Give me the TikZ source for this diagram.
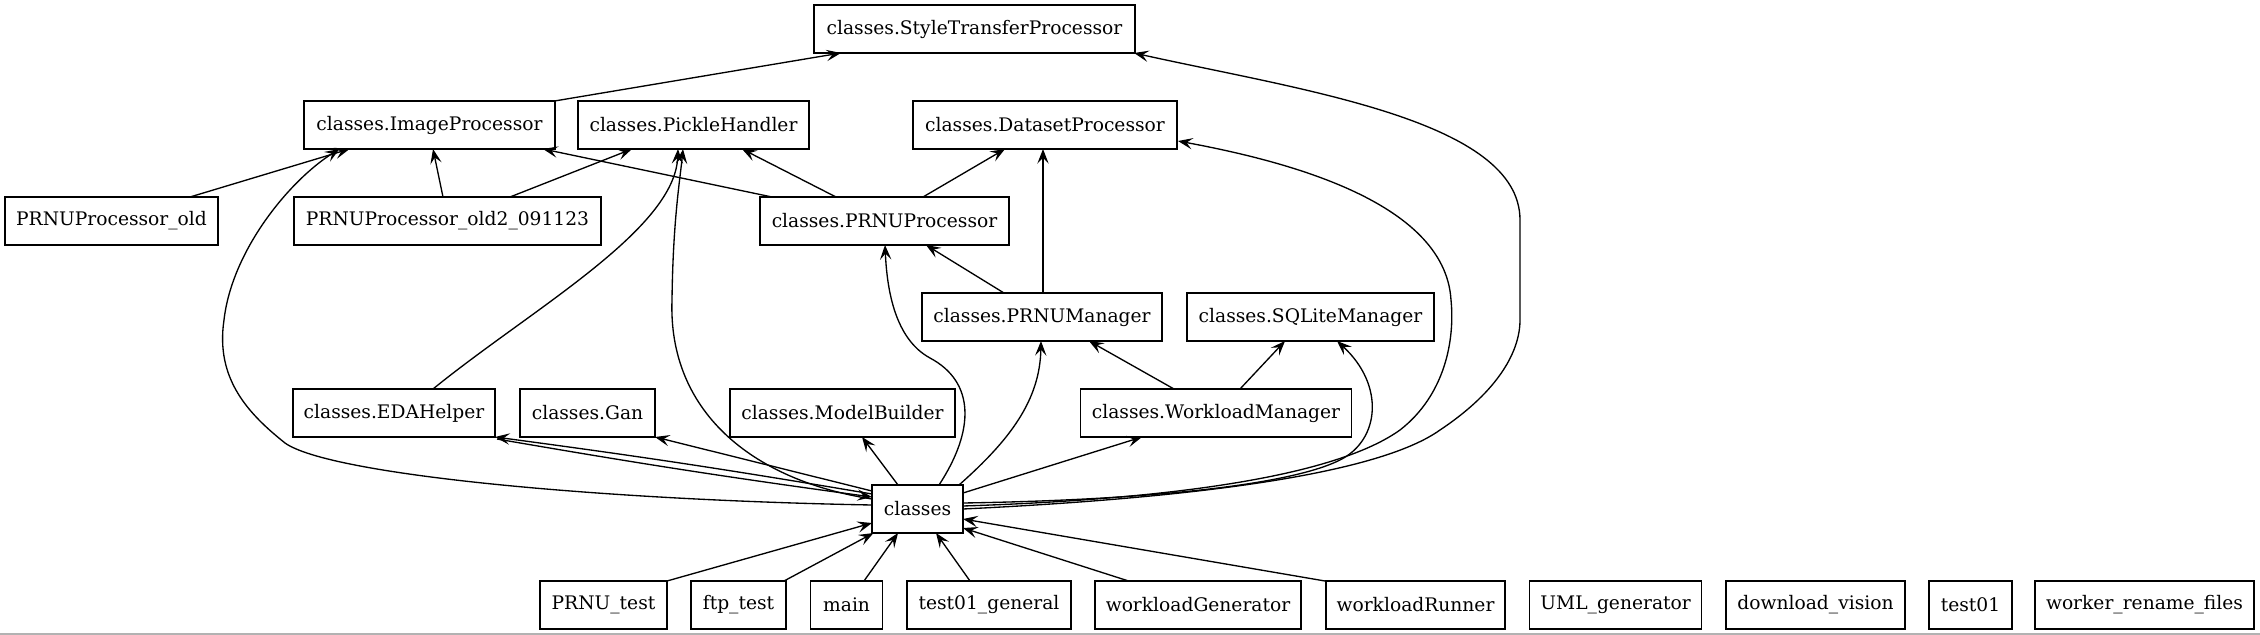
\documentclass[tikz,border=0pt]{standalone}
\usepackage{fontspec}
\setmainfont{DejaVu Serif}
\usetikzlibrary{calc,arrows.meta}
\begin{document}
\begin{tikzpicture}[x=0.75pt,y=-0.75pt,
  box/.style={draw, line width=1pt, rectangle, inner sep=0pt, minimum height=36pt,
    minimum width=#1*0.75pt, font=\fontsize{14pt}{16pt}\selectfont},
  edge/.style={draw, line width=1pt, -{Stealth[length=11pt,width=8.5pt,inset=4.5pt]}}]
\useasboundingbox (0,0) rectangle (2260,635);
\draw[black!30, line width=1pt] (0,634) -- (2260,634);
% nodes
\node[box=321] (stp) at (974.5,29) {classes.StyleTransferProcessor};
\node[box=251] (ip) at (429.5,125) {classes.ImageProcessor};
\node[box=231] (ph) at (693.5,125) {classes.PickleHandler};
\node[box=264] (dp) at (1045,125) {classes.DatasetProcessor};
\node[box=213] (pold) at (111.5,221) {PRNUProcessor\_old};
\node[box=307] (pold2) at (447.5,221) {PRNUProcessor\_old2\_091123};
\node[box=249] (pp) at (884.5,221) {classes.PRNUProcessor};
\node[box=240] (pm) at (1042,317) {classes.PRNUManager};
\node[box=247] (sq) at (1310.5,317) {classes.SQLiteManager};
\node[box=202] (eda) at (394,413) {classes.EDAHelper};
\node[box=135] (gan) at (587.5,413) {classes.Gan};
\node[box=225] (mb) at (842.5,413) {classes.ModelBuilder};
\node[box=271] (wm) at (1216,413) {classes.WorkloadManager};
\node[box=91] (cl) at (917.5,509) {classes};
\node[box=127] (prt) at (603.5,605) {PRNU\_test};
\node[box=95] (ftp) at (738.5,605) {ftp\_test};
\node[box=72] (mn) at (846.6,605) {main};
\node[box=164] (tg) at (989,605) {test01\_general};
\node[box=206] (wg) at (1198,605) {workloadGenerator};
\node[box=179] (wr) at (1415.5,605) {workloadRunner};
\node[box=172] (uml) at (1615.6,605) {UML\_generator};
\node[box=179] (dv) at (1815.5,605) {download\_vision};
\node[box=83] (t01) at (1970.5,605) {test01};
\node[box=219] (wrf) at (2144.5,605) {worker\_rename\_files};
% upper edges
\draw[edge] ($(ip)+(125,-24)$) -- ($(stp)+(-133.5,24)$);
\draw[edge] ($(pold)+(78.5,-24)$) -- ($(ip)+(-80,24)$);
\draw[edge] ($(pold2)+(-4.5,-24)$) -- ($(ip)+(3.5,24)$);
\draw[edge] ($(pold2)+(62.5,-24)$) -- ($(ph)+(-61.5,24)$);
\draw[edge] ($(pp)+(-112.5,-24)$) -- ($(ip)+(113.5,24)$);
\draw[edge] ($(pp)+(-48.5,-24)$) -- ($(ph)+(48.5,24)$);
\draw[edge] ($(pp)+(38.5,-24)$) -- ($(dp)+(-40,24)$);
\draw[edge] ($(eda)+(39,-24)$) .. controls (530,310) and (675,230) .. ($(ph)+(-15.5,24)$);
\draw[edge] ($(pm)+(-38,-24)$) -- ($(pp)+(41.5,24)$);
\draw[edge] ($(pm)+(1,-24)$) -- ($(dp)+(-2,24)$);
\draw[edge] ($(wm)+(-42,-24)$) -- ($(pm)+(47,24)$);
\draw[edge] ($(wm)+(24,-24)$) -- ($(sq)+(-25.5,24)$);
% edges from classes
\draw[edge] ($(cl)+(-19.5,-24)$) -- ($(mb)+(19.5,24)$);
\draw[edge] ($(cl)+(-45.5,-18)$) -- ($(gan)+(67.5,24)$);
\draw[edge] ($(cl)+(-45.5,-15)$) to[bend right=1] ($(eda)+(101,24)$);
\draw[edge] ($(eda)+(103,26)$) to[bend right=1] ($(cl)+(-45.5,-12)$);
\draw[edge] ($(cl)+(-45.5,-10)$) .. controls (750,480) and (668,410) .. (672,300)
  .. controls (673,220) and (680,180) .. ($(ph)+(-10.5,24)$);
\draw[edge] ($(cl)+(-45.5,-4)$) .. controls (600,500) and (330,475) .. (285,443)
  .. controls (250,415) and (215,380) .. (224,320)
  .. controls (232,250) and (290,180) .. ($(ip)+(-90,24)$);
\draw[edge] ($(cl)+(21.5,-24)$) .. controls (975,430) and (975,382) .. (930,358)
  .. controls (895,339) and (887,290) .. ($(pp)+(0.5,24)$);
\draw[edge] ($(cl)+(41.5,-24)$) .. controls (1010,440) and (1040,400) .. ($(pm)+(-1,24)$);
\draw[edge] ($(cl)+(45.5,-16)$) -- ($(wm)+(-74,24)$);
\draw[edge] ($(cl)+(45.5,-6)$) .. controls (1150,500) and (1290,485) .. (1340,460)
  .. controls (1380,440) and (1385,385) .. ($(sq)+(26.5,24)$);
\draw[edge] ($(cl)+(45.5,-3)$) .. controls (1150,500) and (1330,480) .. (1400,430)
  .. controls (1445,395) and (1455,340) .. (1451,300)
  .. controls (1445,200) and (1280,160) .. ($(dp)+(133,16)$);
\draw[edge] ($(cl)+(45.5,0)$) .. controls (1150,500) and (1370,480) .. (1440,430)
  .. controls (1500,390) and (1520,350) .. (1520,320) -- (1520,220)
  .. controls (1520,120) and (1300,90) .. ($(stp)+(159.5,24)$);
% edges into classes from the bottom row
\draw[edge] ($(prt)+(63.5,-24)$) -- ($(cl)+(-45.5,14)$);
\draw[edge] ($(ftp)+(45.5,-24)$) -- ($(cl)+(-44,24)$);
\draw[edge] ($(mn)+(17.4,-24)$) -- ($(cl)+(-19.5,24)$);
\draw[edge] ($(tg)+(-19,-24)$) -- ($(cl)+(18.5,24)$);
\draw[edge] ($(wg)+(-69.4,-24)$) -- ($(cl)+(45.5,19)$);
\draw[edge] ($(wr)+(-90.5,-24)$) -- ($(cl)+(45.5,10)$);
\end{tikzpicture}
\end{document}
